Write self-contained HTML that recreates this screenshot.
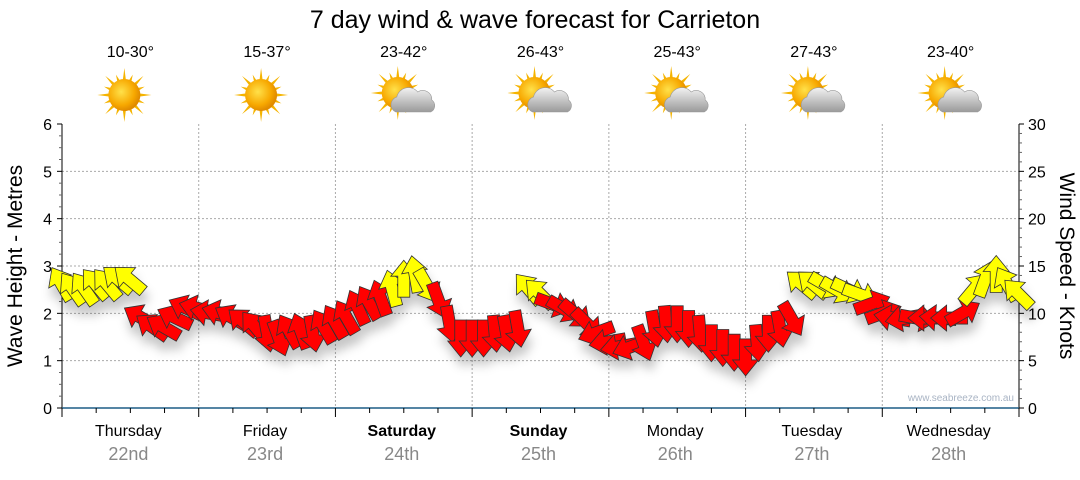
<!DOCTYPE html>
<html><head><meta charset="utf-8"><style>
body{margin:0;background:#fff;width:1080px;height:475px;overflow:hidden;font-family:"Liberation Sans",sans-serif}
</style></head><body>
<svg id="chart" width="1080" height="475" viewBox="0 0 1080 475" xmlns="http://www.w3.org/2000/svg" font-family="Liberation Sans, sans-serif">
<defs>
<filter id="sh" x="-50%" y="-50%" width="200%" height="200%"><feDropShadow dx="2" dy="10" stdDeviation="5" flood-color="#000" flood-opacity="0.22"/></filter>
<radialGradient id="sun" cx="0.4" cy="0.4" r="0.6"><stop offset="0" stop-color="#ffe14a"/><stop offset="0.7" stop-color="#f7a800"/><stop offset="1" stop-color="#e08a00"/></radialGradient>
<linearGradient id="cloud" x1="0" y1="0" x2="0" y2="1"><stop offset="0" stop-color="#f2f2f2"/><stop offset="1" stop-color="#9a9a9a"/></linearGradient>
</defs>
<text x="535" y="28" font-size="25" text-anchor="middle" fill="#000">7 day wind &amp; wave forecast for Carrieton</text>
<g id="grid"></g>
<g id="days"></g>
<g id="arrows" filter="url(#sh)"></g>
<text x="1014" y="401" font-size="10" text-anchor="end" fill="#a9b4c4">www.seabreeze.com.au</text>
<text transform="translate(22,266) rotate(-90)" font-size="21" text-anchor="middle">Wave Height - Metres</text>
<text transform="translate(1060,266) rotate(90)" font-size="21" text-anchor="middle">Wind Speed - Knots</text>
</svg>
<script>
const dayNames=["Thursday","Friday","Saturday","Sunday","Monday","Tuesday","Wednesday"];
const dayDates=["22nd","23rd","24th","25th","26th","27th","28th"];
const tempRanges=["10-30°","15-37°","23-42°","26-43°","25-43°","27-43°","23-40°"];
const cloudy=[0,0,1,1,1,1,1];
const waveTicks=[0,1,2,3,4,5,6];
const windTicks=[0,5,10,15,20,25,30];
// 2-hourly wind speed (knots) and direction the arrow points (deg, 0=up)
const windSpeed=[
13,12.5,12.5,13,13,13.5,13.5,9.5,8.5,8.5,9.5,10.5,
10.5,10,10,9.5,9,8.5,8,7.5,8,8,8,8.5,
9,9.5,10.5,11,11.5,12.5,13.5,14,13,11.5,9,7.5,
7.5,7.5,8,8,8.5,12.5,12,11,10.5,10,9,8,
7,6.5,6.5,7,8.5,9,9,8.5,8,7,6.5,6,
5.5,7,8,8.5,9.5,13,13,13,12.5,12.5,12,11,
10,9.5,9.5,9.5,9.5,9.5,9.5,10,12.5,13.5,14,13,12];
const windDir=[
-30,-35,-35,-40,-40,-50,-50,-60,-55,-60,-65,-65,
-75,-80,-75,-60,-50,-40,170,160,-30,-20,170,-30,
-30,-30,-25,-30,-20,-15,0,-10,150,160,170,180,
180,180,175,170,170,-40,-45,110,120,130,135,-110,
-100,-100,-110,160,170,175,180,180,175,180,180,180,
180,175,180,170,150,-50,-50,120,120,115,110,70,
70,-80,-100,100,-90,-85,-90,60,40,20,0,-30,-45];
const x0=62,x1=1019,y0=408,yTop=124;
const dayW=(x1-x0)/7;
const xT=h=>x0+h/24*dayW;
const yWave=m=>y0-m/6*(y0-yTop);
const yWind=k=>y0-k/30*(y0-yTop);
const NS="http://www.w3.org/2000/svg";
function mk(tag,attrs,parent){const e=document.createElementNS(NS,tag);for(const k in attrs)e.setAttribute(k,attrs[k]);parent.appendChild(e);return e;}
const grid=document.getElementById('grid');
for(let m=1;m<=5;m++){const l=mk('line',{x1:x0,x2:x1,y1:yWave(m),y2:yWave(m),stroke:'#aaa','stroke-dasharray':'2,2'},grid);

}
for(let d=1;d<7;d++){const l=mk('line',{x1:x0+d*dayW,x2:x0+d*dayW,y1:yTop,y2:y0,stroke:'#aaa','stroke-dasharray':'2,2'},grid);

}
const la=mk('line',{x1:x0,x2:x0,y1:yTop,y2:y0,stroke:'#000'},grid);


for(let i=0;i<=24;i++){const y=yWave(i/4);mk('line',{x1:i%4?x0-3:x0-5,x2:x0,y1:y,y2:y,stroke:i%4?'#666':'#000'},grid);}
waveTicks.forEach(v=>{const t=mk('text',{x:x0-10,y:yWave(v)+6,'font-size':16,'text-anchor':'end'},grid);t.textContent=v;

});
const ra=mk('line',{x1:x1,x2:x1,y1:yTop,y2:y0,stroke:'#000'},grid);


for(let k=0;k<=30;k++){const y=yWind(k);mk('line',{x1:x1,x2:k%5?x1+3:x1+5,y1:y,y2:y,stroke:k%5?'#666':'#000'},grid);}
windTicks.forEach(v=>{const t=mk('text',{x:x1+9,y:yWind(v)+6,'font-size':16},grid);t.textContent=v;

});
const ba=mk('line',{x1:x0,x2:x1,y1:y0,y2:y0,stroke:'#1d5d86','stroke-width':1.5},grid);


for(let i=0;i<=28;i++){const x=xT(i*6);mk('line',{x1:x,x2:x,y1:y0,y2:i%4?y0+5:y0+9,stroke:'#000'},grid);}
const days=document.getElementById('days');
function sunIcon(g,cx,cy){
  for(let i=0;i<16;i++){const a=i*Math.PI/8,r=i%2?22:27;
    const p=[[cx+Math.cos(a)*r,cy+Math.sin(a)*r],[cx+Math.cos(a+0.14)*13,cy+Math.sin(a+0.14)*13],[cx+Math.cos(a-0.14)*13,cy+Math.sin(a-0.14)*13]];
    mk('polygon',{points:p.map(q=>q.join(',')).join(' '),fill:'#f5b400'},g);}
  mk('circle',{cx:cx,cy:cy,r:16,fill:'url(#sun)'},g);
}
function cloudIcon(g,cx,cy){
  mk('path',{d:`M${cx-10},${cy+14} a8,8 0 0 1 1,-15 a12,12 0 0 1 21,-5 a9,9 0 0 1 14,8 a7,7 0 0 1 -1,12 z`,fill:'url(#cloud)',stroke:'#999','stroke-width':0.6},g);
}
dayNames.forEach((n,i)=>{
  const cx=x0+(i+0.5)*dayW;
  const g=mk('g',{},days);
  
  
  const t=mk('text',{x:cx,y:57,'font-size':16,'text-anchor':'middle'},g);t.textContent=tempRanges[i];
  
  
  const ic=mk('g',{},g);
  
  
  sunIcon(ic,cx-6,cloudy[i]?93:95);
  if(cloudy[i])cloudIcon(ic,cx+2,98);
  const dn=mk('text',{x:cx-2,y:436,'font-size':16,'text-anchor':'middle','font-weight':(i==2||i==3)?'bold':'normal'},g);dn.textContent=n;
  
  
  const dd=mk('text',{x:cx-2,y:460,'font-size':18,'text-anchor':'middle',fill:'#888'},g);dd.textContent=dayDates[i];
  
  
});
const ag=document.getElementById('arrows');
const shape="0,-20 13,-4 6,-4 6,17 -6,17 -6,-4 -13,-4";
windSpeed.forEach((s,i)=>{
  const x=xT(i*2),y=yWind(s);
  const p=mk('polygon',{points:shape,transform:`translate(${x},${y}) rotate(${windDir[i]})`,fill:s>=12?'#ffff00':'#ff0000',stroke:'#333','stroke-width':0.8},ag);
  
  
});
</script>
</body></html>
